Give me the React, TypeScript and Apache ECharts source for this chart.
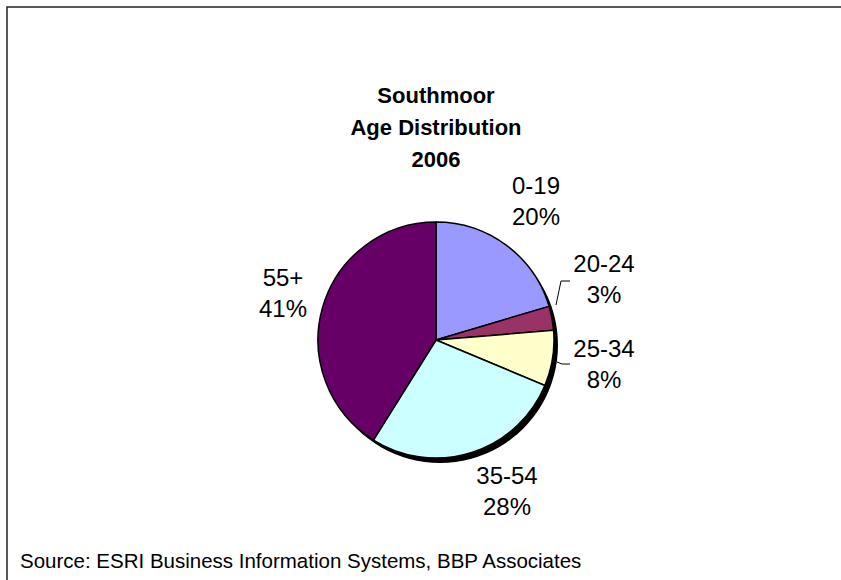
import React, { useEffect, useRef } from "react";
import * as echarts from "echarts";

// Age groups and their share of the population (%)
const ageGroups = ["0-19", "20-24", "25-34", "35-54", "55+"];
const shares = [20.4, 3.3, 7.6, 27.6, 41.1];
const sliceColors = ["#9999FF", "#993366", "#FFFFCC", "#CCFFFF", "#660066"];

const titleLines = ["Southmoor", "Age Distribution", "2006"];
const sourceNote = "Source: ESRI Business Information Systems, BBP Associates";

// Label block centres and leader lines, by slice index
const labelSpots: Record<number, { x: number; y: number; line?: number[][] }> = {
  0: { x: 536, y: 201 },
  1: { x: 604, y: 279, line: [[556, 305], [561, 281], [570, 281]] },
  2: { x: 604, y: 364, line: [[557, 362], [562, 364], [570, 364]] },
  3: { x: 507, y: 491 },
  4: { x: 283, y: 293 },
};

const FONT = "'Liberation Sans', Arial, sans-serif";

export default function App() {
  const ref = useRef<HTMLDivElement>(null);

  useEffect(() => {
    if (!ref.current) return;
    const chart = echarts.init(ref.current, null, { renderer: "svg" });
    const total = shares.reduce((a, b) => a + b, 0);
    const center = [436, 340];
    const radius = 118;

    chart.setOption({
      animation: false,
      backgroundColor: "#ffffff",
      title: {
        text: titleLines.join("\n"),
        left: 436,
        top: 79,
        textAlign: "center",
        padding: 0,
        textStyle: {
          fontFamily: FONT,
          fontWeight: "bold",
          fontSize: 22,
          lineHeight: 32,
          color: "#000",
        },
      },
      graphic: [
        {
          type: "rect",
          shape: { x: 7, y: 7, width: 900, height: 700 },
          style: { fill: "none", stroke: "#222", lineWidth: 1.5 },
          silent: true,
        },
        {
          type: "text",
          x: 20,
          y: 560,
          style: {
            text: sourceNote,
            fontFamily: FONT,
            fontSize: 20.5,
            fill: "#000",
            verticalAlign: "middle",
            align: "left",
          },
        },
      ],
      series: [
        {
          // drop shadow of the pie
          type: "pie",
          silent: true,
          center: [center[0] + 4, center[1] + 5],
          radius: radius,
          label: { show: false },
          labelLine: { show: false },
          itemStyle: { color: "#000", borderWidth: 0 },
          data: [{ name: "", value: total }],
          z: 1,
        },
        {
          type: "pie",
          center,
          radius,
          startAngle: 90,
          clockwise: true,
          percentPrecision: 0,
          avoidLabelOverlap: false,
          z: 2,
          itemStyle: { borderColor: "#000", borderWidth: 1.5 },
          label: {
            show: true,
            position: "outside",
            formatter: "{b}\n{d}%",
            fontFamily: FONT,
            fontSize: 24,
            lineHeight: 31,
            color: "#000",
            align: "center",
          },
          labelLine: {
            show: true,
            lineStyle: { color: "#000", width: 1 },
          },
          labelLayout: (params: any) => {
            const spot = labelSpots[params.dataIndex];
            const out: any = {
              x: spot.x,
              y: spot.y,
              align: "center",
              verticalAlign: "middle",
            };
            if (spot.line) out.labelLinePoints = spot.line;
            return out;
          },
          data: ageGroups.map((name, i) => ({
            name,
            value: shares[i],
            itemStyle: { color: sliceColors[i] },
            labelLine: { show: !!labelSpots[i].line },
          })),
        },
      ],
    });

    return () => chart.dispose();
  }, []);

  return (
    <div
      ref={ref}
      style={{ position: "fixed", left: 0, top: 0, width: 841, height: 580 }}
    />
  );
}
